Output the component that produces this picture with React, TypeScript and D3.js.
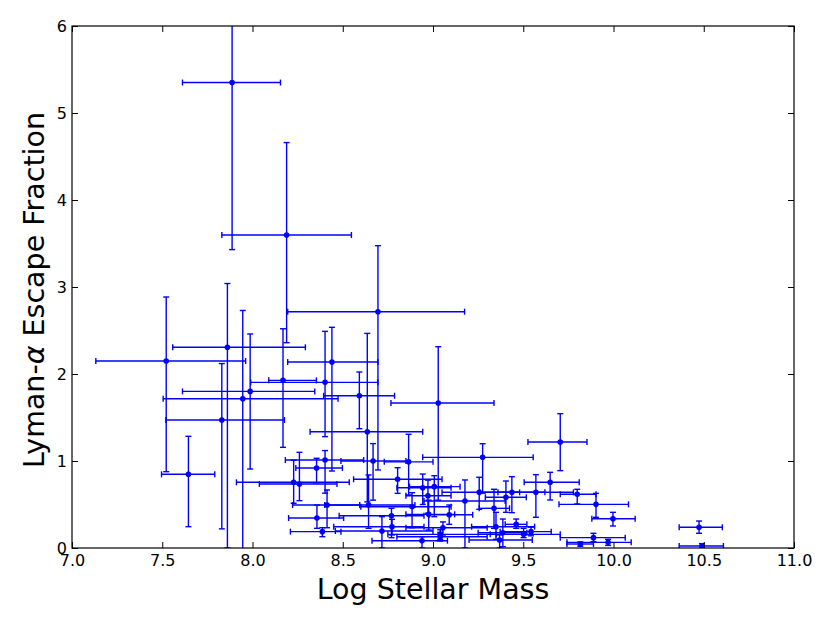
import { useRef, useEffect } from 'react';
import * as d3 from 'd3';

// stellar mass (log) with lower / upper error bounds
const mass = [7.887, 8.189, 8.695, 7.522, 7.861, 7.946, 7.987, 7.83, 7.645, 8.169, 8.402, 8.44, 8.592, 9.029, 8.636,
  9.705, 9.275, 9.649, 9.57, 9.799, 9.903, 9.997, 10.474, 10.49, 9.889, 9.97, 9.816, 9.437, 9.404, 9.256, 9.338,
  9.177, 9.349, 9.461, 9.387, 9.369, 9.502, 9.543, 8.402, 8.355, 8.228, 8.26, 8.413, 8.357, 8.387, 8.668, 8.865,
  8.643, 8.717, 8.804, 8.943, 9.007, 8.972, 8.884, 8.77, 8.976, 9.09, 8.773, 9.055, 9.04, 9.04, 8.939];
const massLo = [7.612, 7.83, 8.195, 7.132, 7.558, 7.505, 7.612, 7.52, 7.496, 8.09, 7.99, 8.195, 8.394, 8.767, 8.319,
  9.526, 8.943, 9.505, 9.36, 9.705, 9.698, 9.88, 10.364, 10.364, 9.705, 9.742, 9.742, 9.26, 9.29, 9.05, 9.256,
  8.95, 9.214, 9.4, 9.25, 9.2, 9.317, 9.372, 8.182, 8.24, 7.911, 8.038, 8.222, 8.2, 8.21, 8.49, 8.73,
  8.4, 8.459, 8.56, 8.8, 8.87, 8.85, 8.6, 8.48, 8.85, 8.98, 8.45, 8.85, 8.75, 8.8, 8.662];
const massHi = [8.155, 8.548, 9.175, 7.962, 8.293, 8.474, 8.345, 8.177, 7.791, 8.354, 8.695, 8.695, 8.787, 9.338, 8.943,
  9.853, 9.555, 9.81, 9.778, 9.903, 10.083, 10.12, 10.603, 10.609, 10.065, 10.098, 9.889, 9.62, 9.517, 9.48, 9.424,
  9.4, 9.563, 9.52, 9.52, 9.55, 9.705, 9.655, 8.616, 8.498, 8.536, 8.468, 8.594, 8.505, 8.49, 8.85, 9.0,
  8.9, 9.0, 9.05, 9.1, 9.15, 9.1, 9.1, 8.95, 9.12, 9.22, 8.95, 9.3, 9.35, 9.3, 9.08];

// Lyman-alpha escape fraction with lower / upper error bounds
const fesc = [5.35, 3.598, 2.716, 2.149, 2.307, 1.716, 1.8, 1.471, 0.847, 1.927, 1.904, 2.138, 1.75, 1.667, 1.337,
  1.218, 1.042, 0.755, 0.64, 0.617, 0.502, 0.337, 0.238, 0.023, 0.119, 0.065, 0.046, 0.64, 0.583, 0.64, 0.456,
  0.54, 0.245, 0.272, 0.176, 0.092, 0.157, 0.188, 1.011, 0.92, 0.755, 0.736, 0.494, 0.345, 0.188, 1.0, 0.99,
  0.494, 0.195, 0.79, 0.693, 0.705, 0.6, 0.475, 0.371, 0.387, 0.383, 0.245, 0.233, 0.157, 0.13, 0.084];
const fescLo = [3.43, 2.36, 0.897, 0.877, 0.0, -0.5, 0.908, 0.22, 0.245, 1.157, 1.28, 0.885, 1.371, 0.55, 0.53,
  0.889, 0.63, 0.552, 0.353, 0.506, 0.353, 0.253, 0.169, 0.0, 0.072, 0.03, 0.02, 0.406, 0.41, 0.445, 0.226,
  0.0, 0.1, 0.226, 0.015, 0.0, 0.119, 0.14, 0.63, 0.75, 0.514, 0.544, 0.233, 0.226, 0.13, 0.55, 0.61,
  0.226, 0.0, 0.628, 0.5, 0.36, 0.4, 0.233, 0.119, 0.207, 0.272, 0.15, 0.15, 0.1, 0.08, 0.0];
const fescHi = [7.3, 4.66, 3.475, 2.885, 3.04, 2.73, 2.46, 2.12, 1.284, 2.52, 2.49, 2.537, 2.023, 2.314, 2.467,
  1.544, 1.199, 0.87, 0.843, 0.675, 0.628, 0.41, 0.31, 0.05, 0.169, 0.1, 0.07, 0.82, 0.77, 0.813, 0.675,
  0.782, 0.41, 0.333, 0.333, 0.15, 0.226, 0.24, 1.12, 1.031, 1.01, 1.1, 0.667, 0.494, 0.233, 1.2, 1.307,
  0.84, 0.36, 0.923, 0.85, 0.831, 0.78, 0.636, 0.456, 0.55, 0.494, 0.33, 0.3, 0.21, 0.18, 0.13];

const xTicks = [7.0, 7.5, 8.0, 8.5, 9.0, 9.5, 10.0, 10.5, 11.0];
const yTicks = [0, 1, 2, 3, 4, 5, 6];

export default function App() {
  const svgRef = useRef<SVGSVGElement>(null);

  useEffect(() => {
    if (!svgRef.current) return;
    const svg = d3.select(svgRef.current);
    svg.selectAll('*').remove();

    const left = 72, right = 794, top = 26, bottom = 548;
    const blue = '#0000ff';
    const font = 'DejaVu Sans, sans-serif';

    const x = d3.scaleLinear().domain([7, 11]).range([left, right]);
    const y = d3.scaleLinear().domain([0, 6]).range([bottom, top]);

    svg.append('rect').attr('width', 830).attr('height', 623).attr('fill', '#ffffff');

    svg.append('defs').append('clipPath').attr('id', 'plot-clip')
      .append('rect')
      .attr('x', left).attr('y', top)
      .attr('width', right - left).attr('height', bottom - top);

    const pts = mass.map((m, i) => ({
      m, mLo: massLo[i], mHi: massHi[i],
      f: fesc[i], fLo: fescLo[i], fHi: fescHi[i],
    }));

    const g = svg.append('g').attr('clip-path', 'url(#plot-clip)');
    const cap = 3;

    pts.forEach(d => {
      const cx = x(d.m), cy = y(d.f);
      const e = g.append('g').attr('stroke', blue).attr('stroke-width', 1.4).attr('fill', 'none');
      // horizontal bar + caps
      e.append('line').attr('x1', x(d.mLo)).attr('x2', x(d.mHi)).attr('y1', cy).attr('y2', cy);
      e.append('line').attr('x1', x(d.mLo)).attr('x2', x(d.mLo)).attr('y1', cy - cap).attr('y2', cy + cap);
      e.append('line').attr('x1', x(d.mHi)).attr('x2', x(d.mHi)).attr('y1', cy - cap).attr('y2', cy + cap);
      // vertical bar + caps
      e.append('line').attr('x1', cx).attr('x2', cx).attr('y1', y(d.fLo)).attr('y2', y(d.fHi));
      e.append('line').attr('x1', cx - cap).attr('x2', cx + cap).attr('y1', y(d.fLo)).attr('y2', y(d.fLo));
      e.append('line').attr('x1', cx - cap).attr('x2', cx + cap).attr('y1', y(d.fHi)).attr('y2', y(d.fHi));
    });

    g.selectAll('.dot')
      .data(pts)
      .enter()
      .append('circle')
      .attr('class', 'dot')
      .attr('cx', d => x(d.m))
      .attr('cy', d => y(d.f))
      .attr('r', 2.8)
      .attr('fill', blue);

    // axes with inward ticks on all four sides
    const styleAxis = (sel: any) => {
      sel.select('.domain').remove();
      sel.selectAll('.tick line').attr('stroke', '#000').attr('stroke-width', 1);
      sel.selectAll('text').attr('fill', '#000').style('font-family', font).style('font-size', '16px');
    };

    svg.append('g')
      .attr('transform', `translate(0,${bottom})`)
      .call(d3.axisBottom(x).tickValues(xTicks).tickFormat(d3.format('.1f')).tickSizeInner(-6).tickSizeOuter(0).tickPadding(7))
      .call(styleAxis);

    svg.append('g')
      .attr('transform', `translate(0,${top})`)
      .call(d3.axisTop(x).tickValues(xTicks).tickFormat(() => '').tickSizeInner(-6).tickSizeOuter(0))
      .call(styleAxis);

    svg.append('g')
      .attr('transform', `translate(${left},0)`)
      .call(d3.axisLeft(y).tickValues(yTicks).tickFormat(d3.format('d')).tickSizeInner(-6).tickSizeOuter(0).tickPadding(5))
      .call(styleAxis);

    svg.append('g')
      .attr('transform', `translate(${right},0)`)
      .call(d3.axisRight(y).tickValues(yTicks).tickFormat(() => '').tickSizeInner(-6).tickSizeOuter(0))
      .call(styleAxis);

    svg.append('rect')
      .attr('x', left).attr('y', top)
      .attr('width', right - left).attr('height', bottom - top)
      .attr('fill', 'none').attr('stroke', '#000').attr('stroke-width', 1.2);

    // axis titles
    svg.append('text')
      .attr('x', 433)
      .attr('y', 599)
      .attr('text-anchor', 'middle')
      .style('font-family', font)
      .style('font-size', '28.5px')
      .text('Log Stellar Mass');

    const yl = svg.append('text')
      .attr('transform', `translate(44,290) rotate(-90)`)
      .attr('text-anchor', 'middle')
      .style('font-family', font)
      .style('font-size', '28.5px');
    yl.append('tspan').text('Lyman-');
    yl.append('tspan').style('font-style', 'italic').text('α');
    yl.append('tspan').text(' Escape Fraction');
  }, []);

  return (
    <div style={{ position: 'absolute', left: 0, top: 0 }}>
      <svg ref={svgRef} width={830} height={623} />
    </div>
  );
}
